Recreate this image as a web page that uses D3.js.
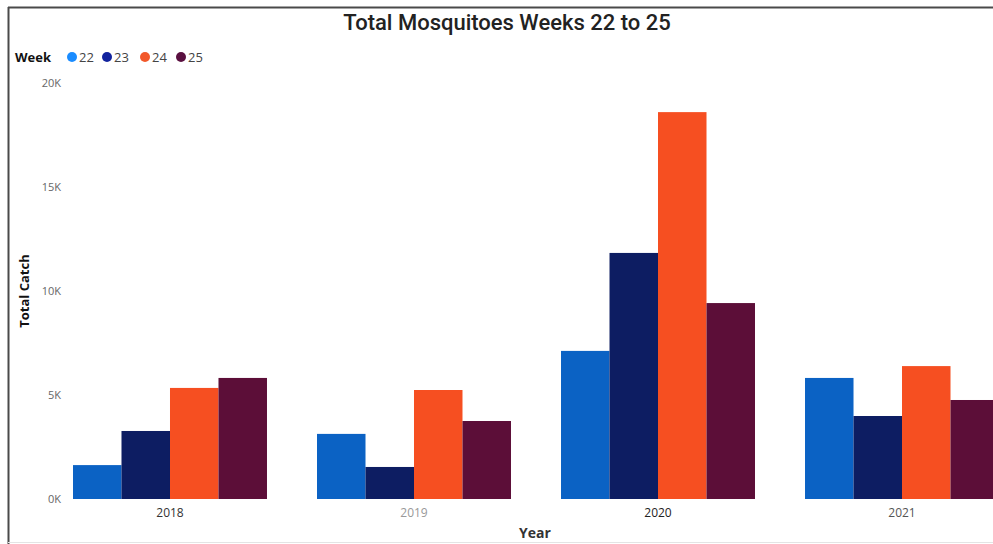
<!DOCTYPE html>
<html>
<head>
<meta charset="utf-8">
<script src="https://cdn.jsdelivr.net/npm/d3@7"></script>
<style>
  html, body { margin: 0; padding: 0; background: #fff; }
  svg { display: block; }
</style>
</head>
<body>
<svg id="chart" width="993" height="544"></svg>
<script>
// Total mosquito catch by year, one bar per collection week
const years = ["2018", "2019", "2020", "2021"];
const weeks = ["22", "23", "24", "25"];
const week22 = [1630, 3130, 7120, 5820];
const week23 = [3270, 1540, 11830, 3990];
const week24 = [5340, 5240, 18600, 6390];
const week25 = [5820, 3750, 9420, 4760];
const yTicks = [0, 5000, 10000, 15000, 20000];
const weekColors = ["#0b62c4", "#0d1d62", "#f64f21", "#5c0e38"];
const legendColors = ["#1a8cff", "#12239e", "#f2582a", "#5a1040"];

const series = [week22, week23, week24, week25];
const rows = years.map((y, i) => ({
  year: y,
  values: weeks.map((w, j) => ({ week: w, value: series[j][i] }))
}));

const svg = d3.select("#chart");
const W = 993, H = 544;
const plotTop = 83, plotBottom = 499;

// Frame lines of the report tile
svg.append("line").attr("x1", 8).attr("x2", W).attr("y1", 7.5).attr("y2", 7.5)
  .attr("stroke", "#4a4a4a").attr("stroke-width", 2);
svg.append("line").attr("x1", 8.5).attr("x2", 8.5).attr("y1", 7).attr("y2", H)
  .attr("stroke", "#4a4a4a").attr("stroke-width", 2);
svg.append("line").attr("x1", 8).attr("x2", W).attr("y1", 542.5).attr("y2", 542.5)
  .attr("stroke", "#e4e4e4").attr("stroke-width", 1);

const x0 = d3.scaleBand()
  .domain(years)
  .range([48.6, 1023.4])
  .paddingInner(0.205)
  .paddingOuter(0.1);

const x1 = d3.scaleBand()
  .domain(weeks)
  .range([0, x0.bandwidth()]);

const y = d3.scaleLinear()
  .domain([0, 20000])
  .range([plotBottom, plotTop]);

const color = d3.scaleOrdinal().domain(weeks).range(weekColors);

// Bars
const groups = svg.append("g")
  .selectAll("g")
  .data(rows)
  .join("g")
  .attr("transform", d => `translate(${x0(d.year)},0)`);

groups.selectAll("rect")
  .data(d => d.values)
  .join("rect")
  .attr("x", d => x1(d.week))
  .attr("width", x1.bandwidth())
  .attr("y", d => y(d.value))
  .attr("height", d => y(0) - y(d.value))
  .attr("fill", d => color(d.week));

// Y axis labels
const yAxis = d3.axisLeft(y)
  .tickValues(yTicks)
  .tickFormat(d => (d / 1000) + "K")
  .tickSize(0)
  .tickPadding(0);

const gy = svg.append("g")
  .attr("transform", "translate(61,0)")
  .call(yAxis);
gy.select(".domain").remove();
gy.selectAll("text")
  .attr("font-family", "'Open Sans', sans-serif")
  .attr("font-size", 11)
  .attr("fill", "#666");

// X axis labels
const xAxis = d3.axisBottom(x0).tickSize(0).tickPadding(0);
const gx = svg.append("g")
  .attr("transform", `translate(0,${plotBottom + 9})`)
  .call(xAxis);
gx.select(".domain").remove();
const yearColors = { "2018": "#333", "2019": "#999", "2020": "#222", "2021": "#555" };
gx.selectAll("text")
  .attr("font-family", "'Open Sans', sans-serif")
  .attr("font-size", 12)
  .attr("fill", d => yearColors[d]);

// Axis titles
svg.append("text")
  .attr("x", 535).attr("y", 538)
  .attr("text-anchor", "middle")
  .attr("font-family", "'Open Sans', sans-serif")
  .attr("font-weight", "bold")
  .attr("font-size", 14)
  .attr("fill", "#333")
  .text("Year");

svg.append("text")
  .attr("transform", "translate(29,291) rotate(-90)")
  .attr("text-anchor", "middle")
  .attr("font-family", "'Open Sans', sans-serif")
  .attr("font-weight", "bold")
  .attr("font-size", 13)
  .attr("fill", "#111")
  .text("Total Catch");

// Title
svg.append("text")
  .attr("x", 507).attr("y", 30)
  .attr("text-anchor", "middle")
  .attr("font-family", "Roboto, sans-serif")
  .attr("font-weight", 500)
  .attr("font-size", 22)
  .attr("fill", "#222")
  .text("Total Mosquitoes Weeks 22 to 25");

// Legend
const legend = svg.append("g").attr("transform", "translate(15,62)");
legend.append("text")
  .attr("x", 0).attr("y", 0)
  .attr("font-family", "'Open Sans', sans-serif")
  .attr("font-weight", "bold")
  .attr("font-size", 13)
  .attr("fill", "#111")
  .text("Week");

const legendX = [57, 92, 130, 166];
const items = legend.selectAll("g.item")
  .data(weeks)
  .join("g")
  .attr("class", "item")
  .attr("transform", (d, i) => `translate(${legendX[i]},0)`);
items.append("circle")
  .attr("cx", 0).attr("cy", -5)
  .attr("r", 5)
  .attr("fill", (d, i) => legendColors[i]);
items.append("text")
  .attr("x", 7).attr("y", 0)
  .attr("font-family", "'Open Sans', sans-serif")
  .attr("font-size", 13)
  .attr("fill", "#444")
  .text(d => d);
</script>
</body>
</html>
